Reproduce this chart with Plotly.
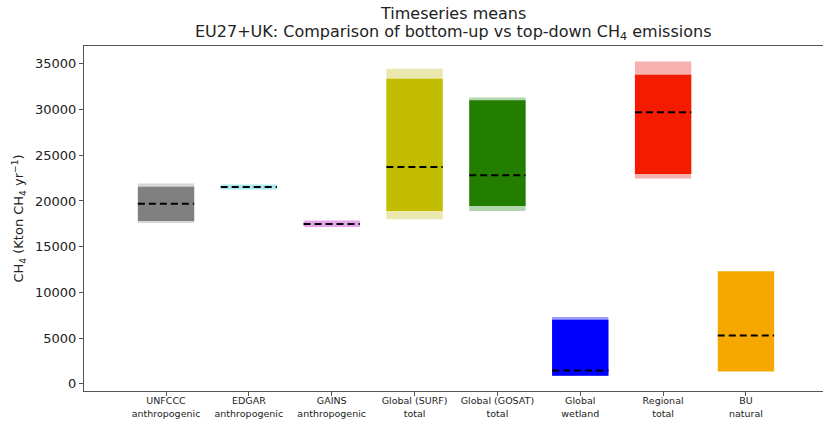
import plotly.graph_objects as go

# Category labels (two-line tick text)
categories = [
    "UNFCCC<br>anthropogenic",
    "EDGAR<br>anthropogenic",
    "GAINS<br>anthropogenic",
    "Global (SURF)<br>total",
    "Global (GOSAT)<br>total",
    "Global<br>wetland",
    "Regional<br>total",
    "BU<br>natural",
]

# Outer (min/max) range per category, kton CH4/yr
outer_low = [17600, 21250, 17150, 18000, 18900, 880, 22450, 1350]
outer_high = [21900, 21800, 17850, 34450, 31300, 7300, 35250, 12300]

# Inner range per category (None where only the outer range exists)
inner_low = [17800, None, None, 18900, 19450, 900, 22950, None]
inner_high = [21550, None, None, 33350, 31000, 7000, 33800, None]

# Mean of the timeseries
means = [19700, 21520, 17480, 23700, 22800, 1450, 29700, 5300]

y_ticks = [0, 5000, 10000, 15000, 20000, 25000, 30000, 35000]

light_colors = ["#d6d6d6", "#aee8ee", "#e6a4ea", "#ebe8ae", "#b2d5ae",
                "#9b9bff", "#f7b1ae", "#f7a800"]
dark_colors = ["#808080", None, None, "#c2bd00", "#237e00",
               "#0000ff", "#f41b00", None]

bar_w = 0.68
xs = list(range(len(categories)))

fig = go.Figure()

# Outer range boxes
fig.add_trace(go.Bar(
    x=xs,
    y=[h - l for l, h in zip(outer_low, outer_high)],
    base=outer_low,
    width=bar_w,
    marker=dict(color=light_colors, line=dict(width=0)),
    showlegend=False,
    hoverinfo="skip",
))

# Inner range boxes
ix = [i for i in xs if inner_low[i] is not None]
fig.add_trace(go.Bar(
    x=ix,
    y=[inner_high[i] - inner_low[i] for i in ix],
    base=[inner_low[i] for i in ix],
    width=bar_w,
    marker=dict(color=[dark_colors[i] for i in ix], line=dict(width=0)),
    showlegend=False,
    hoverinfo="skip",
))

# Dashed mean lines
for i, m in zip(xs, means):
    fig.add_trace(go.Scatter(
        x=[i - bar_w / 2, i + bar_w / 2],
        y=[m, m],
        mode="lines",
        line=dict(color="black", width=2, dash="7px,4px"),
        showlegend=False,
        hoverinfo="skip",
    ))

title_font = dict(size=16, family="DejaVu Sans", color="#222222")
plot_left, plot_w = 84, 823 - 84
title_cx = (453 - plot_left) / plot_w

fig.update_layout(
    width=823,
    height=422,
    margin=dict(l=plot_left, r=0, t=46, b=31),
    paper_bgcolor="white",
    plot_bgcolor="white",
    barmode="overlay",
    font=dict(family="DejaVu Sans", color="#222222"),
    annotations=[
        dict(text="Timeseries means", x=title_cx, xref="x domain",
             y=1.093, yref="paper", showarrow=False,
             xanchor="center", yanchor="middle", font=title_font),
        dict(text="EU27+UK: Comparison of bottom-up vs top-down CH<sub>4</sub> emissions",
             x=title_cx, xref="x domain", y=1.038, yref="paper", showarrow=False,
             xanchor="center", yanchor="middle", font=title_font),
    ],
)

fig.update_xaxes(
    range=[-0.99, 7.93],
    tickmode="array",
    tickvals=xs,
    ticktext=categories,
    tickfont=dict(size=9.5, family="DejaVu Sans", color="#222222"),
    ticks="outside",
    ticklen=4,
    tickcolor="#555555",
    ticklabelstandoff=-3,
    showline=True,
    linecolor="#555555",
    linewidth=1,
    mirror=True,
    showgrid=False,
    zeroline=False,
)

fig.update_yaxes(
    range=[-780, 36940],
    tickmode="array",
    tickvals=y_ticks,
    ticktext=[str(v) for v in y_ticks],
    tickfont=dict(size=13, family="DejaVu Sans", color="#222222"),
    ticks="outside",
    ticklen=4,
    tickcolor="#555555",
    showline=True,
    linecolor="#555555",
    linewidth=1,
    showgrid=False,
    zeroline=False,
    title=dict(
        text="CH<sub>4</sub> (Kton CH<sub>4</sub> yr<sup>\u22121</sup>)",
        font=dict(size=13, family="DejaVu Sans", color="#222222"),
        standoff=8,
    ),
)

fig.write_html("out.html")
